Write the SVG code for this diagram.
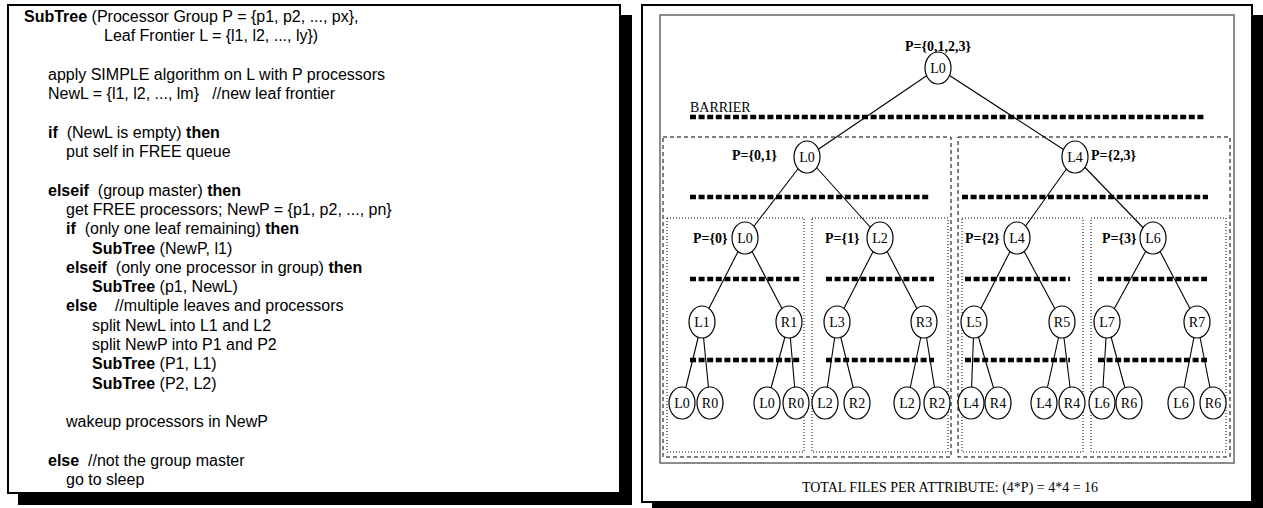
<svg xmlns="http://www.w3.org/2000/svg" width="1263" height="508" viewBox="0 0 1263 508">
<defs>
<style>
.frame{fill:#fff;stroke:#000;stroke-width:2}
.shadow{fill:#000}
.code{font-family:"Liberation Sans",Arial,sans-serif;font-size:16px;fill:#000}
.b{font-weight:bold}
.tm{font-family:"Liberation Serif","Times New Roman",serif;fill:#000}
.nl{font-size:14px;text-anchor:middle}
.pl{font-size:14px;font-weight:bold}
.node{fill:#fff;stroke:#000;stroke-width:1.2}
.edge{stroke:#000;stroke-width:1.1;fill:none}
.bar{stroke:#000;stroke-width:4.5;stroke-dasharray:6 2.6;fill:none}
.dash{fill:none;stroke:#000;stroke-width:1;stroke-dasharray:4 3}
.dot{fill:none;stroke:#000;stroke-width:1;stroke-dasharray:1 2}
</style>
</defs>
<rect width="1263" height="508" fill="#fff"/>
<!-- left panel -->
<g id="code-panel">
<rect class="shadow" x="620" y="15" width="12" height="490"/>
<rect class="shadow" x="18" y="493" width="614" height="12"/>
<rect class="frame" x="8" y="5" width="612" height="488"/>
<g class="code">
<text x="24" y="22"><tspan class="b">SubTree</tspan> (Processor Group P = {p1, p2, ..., px},</text>
<text x="104" y="41">Leaf Frontier L = {l1, l2, ..., ly})</text>
<text x="48" y="80">apply SIMPLE algorithm on L with P processors</text>
<text x="48" y="99">NewL = {l1, l2, ..., lm}&#160;&#160;&#160;//new leaf frontier</text>
<text x="48" y="138"><tspan class="b">if</tspan>&#160;&#160;(NewL is empty) <tspan class="b">then</tspan></text>
<text x="66" y="157">put self in FREE queue</text>
<text x="48" y="196"><tspan class="b">elseif</tspan>&#160;&#160;(group master) <tspan class="b">then</tspan></text>
<text x="66" y="215">get FREE processors; NewP = {p1, p2, ..., pn}</text>
<text x="66" y="234"><tspan class="b">if</tspan>&#160;&#160;(only one leaf remaining) <tspan class="b">then</tspan></text>
<text x="92" y="254"><tspan class="b">SubTree</tspan> (NewP, l1)</text>
<text x="66" y="273"><tspan class="b">elseif</tspan>&#160;&#160;(only one processor in group) <tspan class="b">then</tspan></text>
<text x="92" y="292"><tspan class="b">SubTree</tspan> (p1, NewL)</text>
<text x="66" y="311"><tspan class="b">else</tspan>&#160;&#160;&#160;&#160;//multiple leaves and processors</text>
<text x="92" y="331">split NewL into L1 and L2</text>
<text x="92" y="350">split NewP into P1 and P2</text>
<text x="92" y="369"><tspan class="b">SubTree</tspan> (P1, L1)</text>
<text x="92" y="389"><tspan class="b">SubTree</tspan> (P2, L2)</text>
<text x="66" y="427">wakeup processors in NewP</text>
<text x="48" y="466"><tspan class="b">else</tspan>&#160;&#160;//not the group master</text>
<text x="66" y="485">go to sleep</text>
</g>
</g>
<!-- right panel -->
<g id="tree-panel">
<rect class="shadow" x="1252" y="15" width="11" height="493"/>
<rect class="shadow" x="652" y="502" width="611" height="6"/>
<rect class="frame" x="642" y="5" width="610" height="497"/>
<rect x="660" y="15" width="574" height="448" fill="none" stroke="#666" stroke-width="1.5"/>
</g>
<g id="groups">
<rect class="dash" x="663" y="137" width="288" height="320"/>
<rect class="dash" x="958" y="137" width="272" height="320"/>
<rect class="dot" x="667" y="218" width="137" height="234"/>
<rect class="dot" x="812" y="218" width="136" height="234"/>
<rect class="dot" x="962" y="218" width="121" height="234"/>
<rect class="dot" x="1091" y="218" width="135" height="234"/>
</g>
<g id="connectors">
<line class="edge" x1="938" y1="68" x2="807" y2="157"/>
<line class="edge" x1="938" y1="68" x2="1075" y2="157"/>
<line class="edge" x1="807" y1="157" x2="745" y2="238"/>
<line class="edge" x1="807" y1="157" x2="880" y2="238"/>
<line class="edge" x1="1075" y1="157" x2="1017" y2="238"/>
<line class="edge" x1="1075" y1="157" x2="1153" y2="238"/>
<line class="edge" x1="745" y1="238" x2="702" y2="322"/>
<line class="edge" x1="745" y1="238" x2="789" y2="322"/>
<line class="edge" x1="880" y1="238" x2="837" y2="322"/>
<line class="edge" x1="880" y1="238" x2="924" y2="322"/>
<line class="edge" x1="1017" y1="238" x2="974" y2="322"/>
<line class="edge" x1="1017" y1="238" x2="1062" y2="322"/>
<line class="edge" x1="1153" y1="238" x2="1107" y2="322"/>
<line class="edge" x1="1153" y1="238" x2="1197" y2="322"/>
<line class="edge" x1="702" y1="322" x2="682" y2="403"/>
<line class="edge" x1="702" y1="322" x2="710" y2="403"/>
<line class="edge" x1="789" y1="322" x2="767" y2="403"/>
<line class="edge" x1="789" y1="322" x2="796" y2="403"/>
<line class="edge" x1="837" y1="322" x2="825" y2="403"/>
<line class="edge" x1="837" y1="322" x2="857" y2="403"/>
<line class="edge" x1="924" y1="322" x2="907" y2="403"/>
<line class="edge" x1="924" y1="322" x2="937" y2="403"/>
<line class="edge" x1="974" y1="322" x2="971" y2="403"/>
<line class="edge" x1="974" y1="322" x2="998" y2="403"/>
<line class="edge" x1="1062" y1="322" x2="1044" y2="403"/>
<line class="edge" x1="1062" y1="322" x2="1072" y2="403"/>
<line class="edge" x1="1107" y1="322" x2="1102" y2="403"/>
<line class="edge" x1="1107" y1="322" x2="1129" y2="403"/>
<line class="edge" x1="1197" y1="322" x2="1181" y2="403"/>
<line class="edge" x1="1197" y1="322" x2="1213" y2="403"/>
</g>
<g id="barriers">
<line class="bar" x1="690" y1="117" x2="1204" y2="117"/>
<line class="bar" x1="690" y1="197" x2="930" y2="197"/>
<line class="bar" x1="962" y1="197" x2="1208" y2="197"/>
<line class="bar" x1="690" y1="279" x2="800" y2="279"/>
<line class="bar" x1="826" y1="279" x2="934" y2="279"/>
<line class="bar" x1="965" y1="279" x2="1070" y2="279"/>
<line class="bar" x1="1098" y1="279" x2="1207" y2="279"/>
<line class="bar" x1="690" y1="360" x2="800" y2="360"/>
<line class="bar" x1="826" y1="360" x2="934" y2="360"/>
<line class="bar" x1="965" y1="360" x2="1070" y2="360"/>
<line class="bar" x1="1098" y1="360" x2="1207" y2="360"/>
</g>
<g id="labels" class="tm">
<text class="pl" x="938" y="51" text-anchor="middle">P={0,1,2,3}</text>
<text x="690" y="112" font-size="14">BARRIER</text>
<text class="pl" x="732" y="160">P={0,1}</text>
<text class="pl" x="1091" y="160">P={2,3}</text>
<text class="pl" x="693" y="243">P={0}</text>
<text class="pl" x="825" y="243">P={1}</text>
<text class="pl" x="965" y="243">P={2}</text>
<text class="pl" x="1102" y="243">P={3}</text>
<text x="950" y="492" font-size="14" text-anchor="middle">TOTAL FILES PER ATTRIBUTE: (4*P) = 4*4 = 16</text>
</g>
<g id="n-root"><ellipse class="node" cx="938" cy="68" rx="13" ry="16"/><text class="tm nl" x="938" y="73">L0</text></g>
<g id="n-l1a"><ellipse class="node" cx="807" cy="157" rx="13" ry="16"/><text class="tm nl" x="807" y="162">L0</text></g>
<g id="n-l1b"><ellipse class="node" cx="1075" cy="157" rx="13" ry="16"/><text class="tm nl" x="1075" y="162">L4</text></g>
<g id="n-l2a"><ellipse class="node" cx="745" cy="238" rx="13" ry="16"/><text class="tm nl" x="745" y="243">L0</text></g>
<g id="n-l2b"><ellipse class="node" cx="880" cy="238" rx="13" ry="16"/><text class="tm nl" x="880" y="243">L2</text></g>
<g id="n-l2c"><ellipse class="node" cx="1017" cy="238" rx="13" ry="16"/><text class="tm nl" x="1017" y="243">L4</text></g>
<g id="n-l2d"><ellipse class="node" cx="1153" cy="238" rx="13" ry="16"/><text class="tm nl" x="1153" y="243">L6</text></g>
<g id="n-l3a"><ellipse class="node" cx="702" cy="322" rx="13" ry="16"/><text class="tm nl" x="702" y="327">L1</text></g>
<g id="n-l3b"><ellipse class="node" cx="789" cy="322" rx="13" ry="16"/><text class="tm nl" x="789" y="327">R1</text></g>
<g id="n-l3c"><ellipse class="node" cx="837" cy="322" rx="13" ry="16"/><text class="tm nl" x="837" y="327">L3</text></g>
<g id="n-l3d"><ellipse class="node" cx="924" cy="322" rx="13" ry="16"/><text class="tm nl" x="924" y="327">R3</text></g>
<g id="n-l3e"><ellipse class="node" cx="974" cy="322" rx="13" ry="16"/><text class="tm nl" x="974" y="327">L5</text></g>
<g id="n-l3f"><ellipse class="node" cx="1062" cy="322" rx="13" ry="16"/><text class="tm nl" x="1062" y="327">R5</text></g>
<g id="n-l3g"><ellipse class="node" cx="1107" cy="322" rx="13" ry="16"/><text class="tm nl" x="1107" y="327">L7</text></g>
<g id="n-l3h"><ellipse class="node" cx="1197" cy="322" rx="13" ry="16"/><text class="tm nl" x="1197" y="327">R7</text></g>
<g id="n-l4a"><ellipse class="node" cx="682" cy="403" rx="13" ry="16"/><text class="tm nl" x="682" y="408">L0</text></g>
<g id="n-l4b"><ellipse class="node" cx="710" cy="403" rx="13" ry="16"/><text class="tm nl" x="710" y="408">R0</text></g>
<g id="n-l4c"><ellipse class="node" cx="767" cy="403" rx="13" ry="16"/><text class="tm nl" x="767" y="408">L0</text></g>
<g id="n-l4d"><ellipse class="node" cx="796" cy="403" rx="13" ry="16"/><text class="tm nl" x="796" y="408">R0</text></g>
<g id="n-l4e"><ellipse class="node" cx="825" cy="403" rx="13" ry="16"/><text class="tm nl" x="825" y="408">L2</text></g>
<g id="n-l4f"><ellipse class="node" cx="857" cy="403" rx="13" ry="16"/><text class="tm nl" x="857" y="408">R2</text></g>
<g id="n-l4g"><ellipse class="node" cx="907" cy="403" rx="13" ry="16"/><text class="tm nl" x="907" y="408">L2</text></g>
<g id="n-l4h"><ellipse class="node" cx="937" cy="403" rx="13" ry="16"/><text class="tm nl" x="937" y="408">R2</text></g>
<g id="n-l4i"><ellipse class="node" cx="971" cy="403" rx="13" ry="16"/><text class="tm nl" x="971" y="408">L4</text></g>
<g id="n-l4j"><ellipse class="node" cx="998" cy="403" rx="13" ry="16"/><text class="tm nl" x="998" y="408">R4</text></g>
<g id="n-l4k"><ellipse class="node" cx="1044" cy="403" rx="13" ry="16"/><text class="tm nl" x="1044" y="408">L4</text></g>
<g id="n-l4l"><ellipse class="node" cx="1072" cy="403" rx="13" ry="16"/><text class="tm nl" x="1072" y="408">R4</text></g>
<g id="n-l4m"><ellipse class="node" cx="1102" cy="403" rx="13" ry="16"/><text class="tm nl" x="1102" y="408">L6</text></g>
<g id="n-l4n"><ellipse class="node" cx="1129" cy="403" rx="13" ry="16"/><text class="tm nl" x="1129" y="408">R6</text></g>
<g id="n-l4o"><ellipse class="node" cx="1181" cy="403" rx="13" ry="16"/><text class="tm nl" x="1181" y="408">L6</text></g>
<g id="n-l4p"><ellipse class="node" cx="1213" cy="403" rx="13" ry="16"/><text class="tm nl" x="1213" y="408">R6</text></g>
</svg>
